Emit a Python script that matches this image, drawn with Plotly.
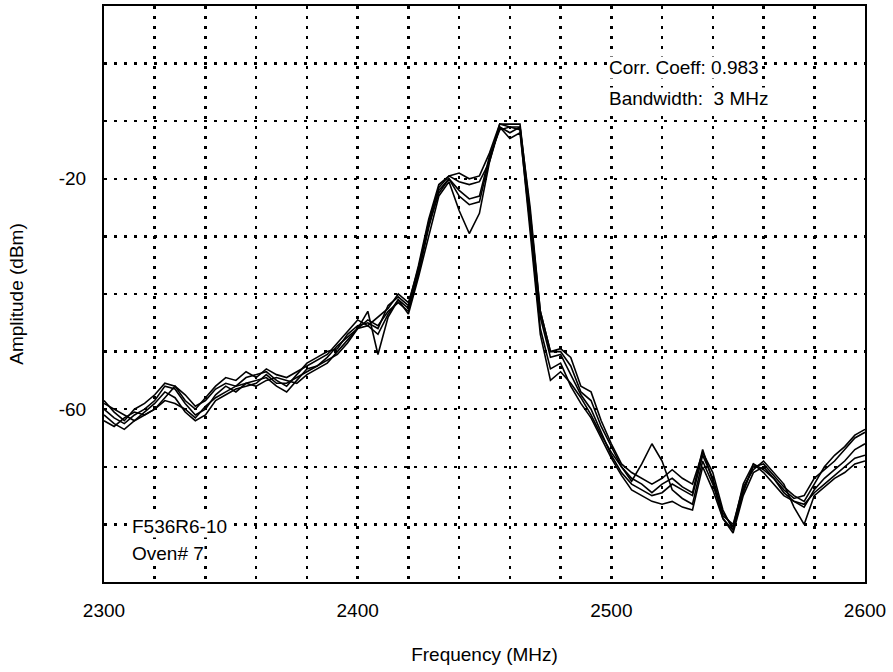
import plotly.graph_objects as go

# Frequency grid (MHz), 4 MHz steps from 2300 to 2600
freq = list(range(2300, 2601, 4))

# Five overlaid sweeps (dBm)
sweep1 = [-60, -61.5, -62.5, -61, -60, -58.5, -56, -56.5, -59, -61,
          -60, -57.5, -56, -57, -55.5, -55, -54.5, -56, -57, -55,
          -53, -52.5, -51.5, -50.5, -48.5, -46, -43, -50.5, -44, -41,
          -43.5, -37, -30, -23, -20.5, -25.5, -29.5, -26, -17, -11,
          -12, -11, -27, -44, -51, -50.5, -54, -57.5, -60, -64,
          -68, -71, -73, -74, -75, -74.5, -73, -74, -75, -68,
          -72, -78, -80.5, -73, -69.5, -71, -73, -75, -76, -77,
          -74, -72, -70.5, -69, -67, -66]
sweep2 = [-59, -60, -61, -62, -61, -60, -58, -56, -57.5, -59.5,
          -58.5, -56.5, -55.5, -56, -54.5, -54, -53.5, -55, -56, -54,
          -52, -51, -50, -49.5, -47, -45.5, -45, -46, -42, -40.5,
          -42, -35, -27, -21, -19.5, -19, -20, -19.5, -15.5, -10.5,
          -10.5, -10.5, -26, -43, -50, -49.5, -51, -56, -57, -62,
          -66, -69.5, -71, -72, -73, -72, -70.5, -72, -73, -67.5,
          -71, -77.5, -81, -74, -70, -69.5, -71.5, -73.5, -75, -76,
          -73, -70, -68, -66.5, -64.5, -63.5]
sweep3 = [-62, -63, -61.5, -60.5, -61, -60, -58.5, -59, -60, -61.5,
          -59.5, -58, -57, -56, -55.5, -56, -55, -54.5, -55, -55.5,
          -54, -53, -52, -50, -48, -46, -45.5, -47, -43.5, -41,
          -42.5, -36, -28, -22.5, -20, -23, -24.5, -24, -16.5, -11,
          -13, -12, -28, -46, -53, -52, -56, -59, -61.5, -65,
          -68.5, -71.5, -74, -75, -76, -76.5, -76, -77, -77.5, -70,
          -74, -79, -81.5, -75, -71, -70, -72, -74.5, -76, -76.5,
          -74.5, -73, -71.5, -70, -68.5, -68]
sweep4 = [-61, -62.5, -63.5, -62, -60.5, -59, -57, -58, -60.5, -62,
          -61, -58.5, -57.5, -56.5, -56, -55.5, -54, -55.5, -55.5, -54.5,
          -53.5, -52.5, -51, -49, -47.5, -46, -44.5, -45.5, -43, -41.5,
          -43, -36.5, -28.5, -22, -20, -22, -23.5, -23, -16, -11.5,
          -11, -11.5, -29, -47, -55, -53.5, -55.5, -58, -61, -64.5,
          -67.5, -70, -72.5, -69.5, -66, -69, -74, -75.5, -76.5, -69,
          -73, -78.5, -80, -73.5, -70.5, -69, -71, -73, -77, -80,
          -75, -73.5, -72, -71, -69.5, -69]
sweep5 = [-58.5, -60.5, -62, -60, -59, -57.5, -55.5, -56, -58.5, -60,
          -58, -56, -54.5, -55, -53.5, -54.5, -53, -54, -54.5, -53.5,
          -52.5, -51.5, -50.5, -48.5, -46.5, -44.5, -45.5, -44, -42.5, -40,
          -41.5, -35.5, -27.5, -21.5, -19.5, -20.5, -21, -20.5, -17, -10.5,
          -11, -11, -25, -43, -50, -50, -52.5, -57, -58.5, -63,
          -66.5, -70, -72, -73, -74.5, -73, -72, -73.5, -74.5, -67,
          -72.5, -79, -81, -74.5, -69.5, -70.5, -72, -74, -75.5, -75,
          -72, -70.5, -69, -67, -65, -64]
sweeps = [sweep1, sweep2, sweep3, sweep4, sweep5]

# Axis ticks (gridlines every 20 MHz / 10 dB, labels only at some)
x_tick_vals = list(range(2300, 2601, 20))
x_tick_text = [str(v) if v in (2300, 2400, 2500, 2600) else "" for v in x_tick_vals]
y_tick_vals = list(range(-90, 11, 10))
y_tick_text = [str(v) if v in (-20, -60) else "" for v in y_tick_vals]

notes_top = ["Corr. Coeff: 0.983", "Bandwidth:\u00a0 3 MHz"]
notes_bottom = ["F536R6-10", "Oven# 7"]

FONT = "Liberation Sans, Arial, sans-serif"

fig = go.Figure()
for s in sweeps:
    fig.add_trace(go.Scatter(x=freq, y=s, mode="lines",
                             line=dict(color="black", width=1.6),
                             showlegend=False, hoverinfo="skip"))

axis_common = dict(showline=True, mirror=True, linecolor="black", linewidth=2,
                   showgrid=True, gridcolor="black", gridwidth=2.5,
                   griddash="3px,7px", zeroline=False, ticks="",
                   tickfont=dict(family=FONT, size=19, color="black"))

fig.update_xaxes(range=[2300, 2600], tickmode="array", tickvals=x_tick_vals,
                 ticktext=x_tick_text, ticklabelstandoff=10,
                 title=dict(text="Frequency (MHz)", standoff=28,
                            font=dict(family=FONT, size=19, color="black")),
                 **axis_common)
fig.update_yaxes(range=[-90, 10], tickmode="array", tickvals=y_tick_vals,
                 ticktext=y_tick_text, ticklabelstandoff=12,
                 title=dict(text="Amplitude (dBm)", standoff=30,
                            font=dict(family=FONT, size=19, color="black")),
                 **axis_common)

for i, t in enumerate(notes_top):
    fig.add_annotation(xref="paper", yref="paper", x=0.662, y=0.893 - i * 0.053,
                       text=t, showarrow=False, xanchor="left", yanchor="middle",
                       bgcolor="white", borderpad=0,
                       font=dict(family=FONT, size=19, color="black"))
for i, t in enumerate(notes_bottom):
    fig.add_annotation(xref="paper", yref="paper", x=0.036, y=0.097 - i * 0.047,
                       text=t, showarrow=False, xanchor="left", yanchor="middle",
                       bgcolor="white", borderpad=0,
                       font=dict(family=FONT, size=19, color="black"))

fig.update_layout(width=893, height=672,
                  margin=dict(l=104, r=28, t=6, b=90, autoexpand=False),
                  paper_bgcolor="white", plot_bgcolor="white",
                  font=dict(family=FONT, size=19, color="black"))

fig.write_html("out.html",
               config={"displayModeBar": False, "staticPlot": True},
               post_script="document.body.style.margin='0';document.body.style.overflow='hidden';")
